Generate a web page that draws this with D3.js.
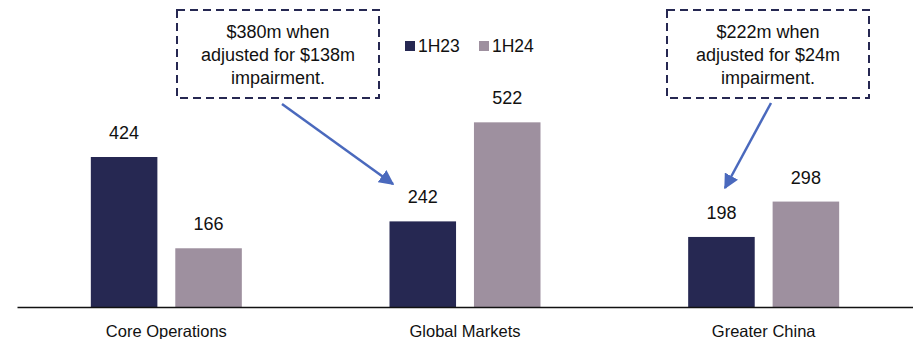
<!DOCTYPE html>
<html>
<head>
<meta charset="utf-8">
<script src="https://cdn.jsdelivr.net/npm/d3@7"></script>
<style>
  html, body { margin: 0; padding: 0; background: #fff; }
  svg { display: block; font-family: "Liberation Sans", Arial, sans-serif; }
</style>
</head>
<body>
<svg id="chart" width="913" height="339"></svg>
<script>
// Segment results, 1H23 vs 1H24 ($m)
const categories = ["Core Operations", "Global Markets", "Greater China"];
const seriesNames = ["1H23", "1H24"];
const values1H23 = [424, 242, 198];
const values1H24 = [166, 522, 298];
const seriesColors = ["#262852", "#9e909f"];

// Callout notes, each pointing at a 1H23 bar
const noteLines = [
  ["$380m when", "adjusted for $138m", "impairment."],
  ["$222m when", "adjusted for $24m", "impairment."]
];

const svg = d3.select("#chart");
const baseY = 307;

const x0 = d3.scaleBand().domain(categories).range([17, 913]).paddingInner(0).paddingOuter(0);
const x1 = d3.scaleBand().domain(seriesNames).range([-75.5, 75.5]).paddingInner(0.212);
const y = d3.scaleLinear().domain([0, 424]).range([baseY, 157]);

const rows = categories.map((c, i) => ({ cat: c, vals: [values1H23[i], values1H24[i]] }));

const groups = svg.append("g").selectAll("g").data(rows).join("g")
  .attr("transform", d => `translate(${x0(d.cat) + x0.bandwidth() / 2},0)`);

groups.selectAll("rect").data(d => d.vals.map((v, j) => ({ v, s: seriesNames[j], j })))
  .join("rect")
  .attr("x", d => x1(d.s))
  .attr("width", x1.bandwidth())
  .attr("y", d => y(d.v))
  .attr("height", d => baseY - y(d.v))
  .attr("fill", d => seriesColors[d.j]);

groups.selectAll("text.val").data(d => d.vals.map((v, j) => ({ v, s: seriesNames[j] })))
  .join("text").attr("class", "val")
  .attr("x", d => x1(d.s) + x1.bandwidth() / 2)
  .attr("y", d => y(d.v) - 18)
  .attr("text-anchor", "middle")
  .attr("font-size", 18)
  .attr("fill", "#111")
  .text(d => d.v);

// Baseline axis with category labels
const axis = d3.axisBottom(x0).tickSize(0).tickPadding(18);
const ax = svg.append("g").attr("transform", `translate(0,${baseY})`).call(axis);
ax.select(".domain").attr("stroke", "#111").attr("stroke-width", 1.6);
ax.selectAll("text").attr("font-size", 16.5).attr("fill", "#111")
  .attr("font-family", "'Liberation Sans', Arial, sans-serif");

// Legend
const legend = svg.append("g").attr("transform", "translate(405,41)");
const legendItems = legend.selectAll("g").data(seriesNames).join("g")
  .attr("transform", (d, i) => `translate(${i * 74},0)`);
legendItems.append("rect").attr("width", 10).attr("height", 10)
  .attr("fill", (d, i) => seriesColors[i]);
legendItems.append("text").attr("x", 13).attr("y", 10.5)
  .attr("font-size", 17.5).attr("fill", "#111").text(d => d);

// Callout boxes with arrows
const defs = svg.append("defs");
defs.append("marker").attr("id", "arrowHead")
  .attr("viewBox", "0 0 10 10").attr("refX", 9).attr("refY", 5)
  .attr("markerWidth", 6).attr("markerHeight", 6).attr("orient", "auto")
  .attr("markerUnits", "strokeWidth")
  .append("path").attr("d", "M0,0 L10,5 L0,10 Z").attr("fill", "#4a69bd");

const boxes = [
  { cx: 278, from: [282, 104], to: [393, 184] },
  { cx: 768, from: [771, 103], to: [725, 188] }
];
boxes.forEach((b, i) => {
  const g = svg.append("g");
  g.append("rect").attr("x", b.cx - 101).attr("y", 10).attr("width", 202).attr("height", 88)
    .attr("fill", "none").attr("stroke", "#262852").attr("stroke-width", 2)
    .attr("stroke-dasharray", "8,5");
  g.selectAll("text").data(noteLines[i]).join("text")
    .attr("x", b.cx).attr("y", (d, k) => 38 + k * 23)
    .attr("text-anchor", "middle").attr("font-size", 18).attr("fill", "#111")
    .text(d => d);
  g.append("line")
    .attr("x1", b.from[0]).attr("y1", b.from[1])
    .attr("x2", b.to[0]).attr("y2", b.to[1])
    .attr("stroke", "#4a69bd").attr("stroke-width", 2.5)
    .attr("marker-end", "url(#arrowHead)");
});
</script>
</body>
</html>
